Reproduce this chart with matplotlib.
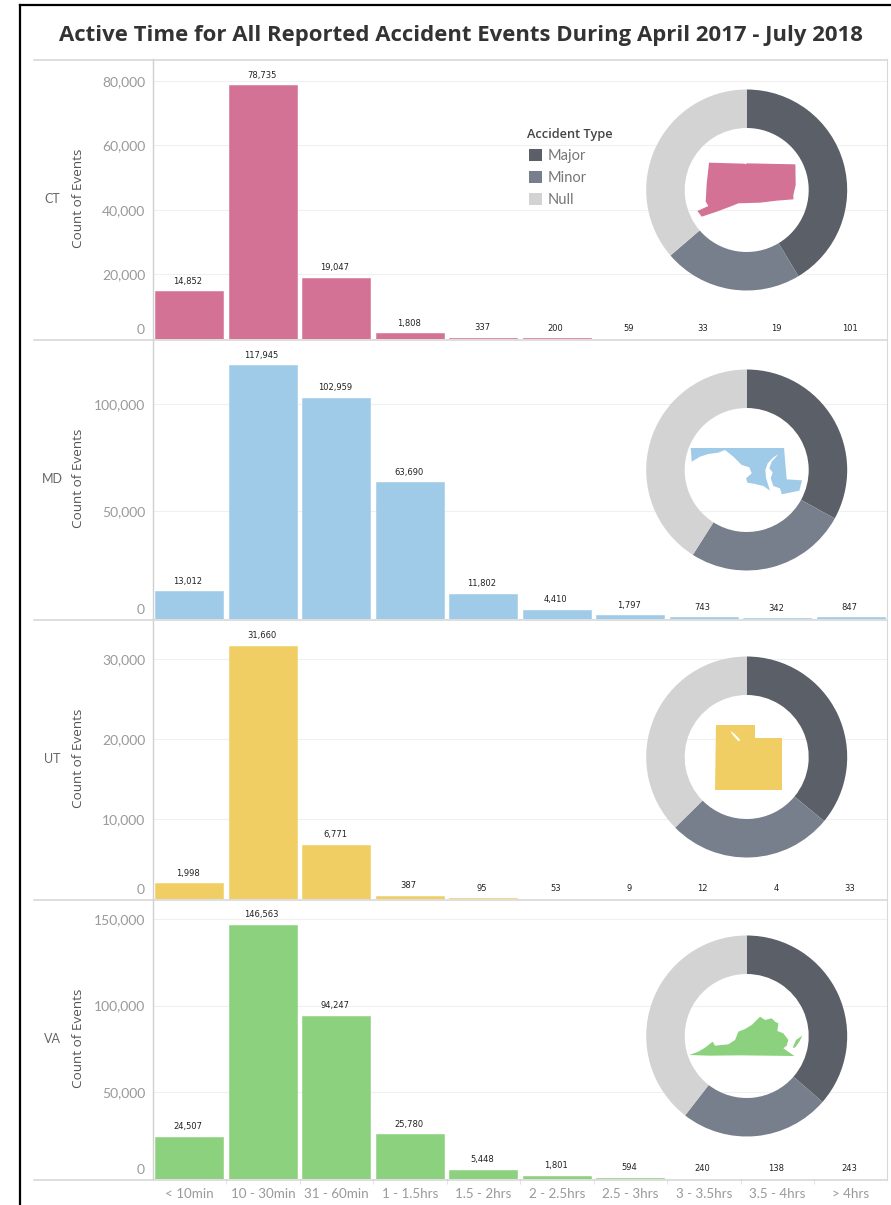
import matplotlib
matplotlib.use("Agg")
import matplotlib.pyplot as plt
from matplotlib.patches import Patch, Polygon
from matplotlib.lines import Line2D
from matplotlib.transforms import ScaledTranslation

W, H = 891, 1205

categories = ["< 10min", "10 - 30min", "31 - 60min", "1 - 1.5hrs", "1.5 - 2hrs",
              "2 - 2.5hrs", "2.5 - 3hrs", "3 - 3.5hrs", "3.5 - 4hrs", "> 4hrs"]
states = ["CT", "MD", "UT", "VA"]

ct_values = [14852, 78735, 19047, 1808, 337, 200, 59, 33, 19, 101]
md_values = [13012, 117945, 102959, 63690, 11802, 4410, 1797, 743, 342, 847]
ut_values = [1998, 31660, 6771, 387, 95, 53, 9, 12, 4, 33]
va_values = [24507, 146563, 94247, 25780, 5448, 1801, 594, 240, 138, 243]
all_values = [ct_values, md_values, ut_values, va_values]

ct_ticks = [0, 20000, 40000, 60000, 80000]
md_ticks = [0, 50000, 100000]
ut_ticks = [0, 10000, 20000, 30000]
va_ticks = [0, 50000, 100000, 150000]
all_ticks = [ct_ticks, md_ticks, ut_ticks, va_ticks]
y_max = [86800, 130200, 35000, 161500]

accident_types = ["Major", "Minor", "Null"]
ct_share = [41.4, 22.3, 36.3]
md_share = [33.0, 26.0, 41.0]
ut_share = [36.0, 26.6, 37.4]
va_share = [36.4, 24.1, 39.5]
all_share = [ct_share, md_share, ut_share, va_share]

state_colors = ["#D37295", "#A0CBE8", "#F1CE63", "#8CD17D"]
type_colors = ["#5B5F68", "#767F8B", "#D3D3D3"]

# state silhouettes, traced by hand, offsets from donut centre in thirds of a pixel
ct_shape = [[(-113, -82), (-7, -79), (-4, -77), (0, -80), (146, -77), (147, -15), (140, 15),
             (140, 28), (90, 32), (40, 38), (-25, 40), (-50, 50), (-90, 65), (-135, 80),
             (-148, 63), (-115, 48), (-123, 35), (-120, -20)]]
md_shape = [[(-168, -66), (112, -66), (120, 28), (166, 31), (158, 62), (105, 73), (100, 55),
             (80, 48), (72, 25), (78, 8), (68, -5), (75, -25), (95, -47), (80, -38),
             (63, -20), (56, 0), (58, 25), (70, 62), (50, 48), (25, 42), (2, 38), (-2, 25),
             (15, 10), (8, -8), (-15, -15), (-40, -40), (-65, -60), (-85, -52), (-115, -48),
             (-140, -40), (-165, -25)]]
ut_shape = [[(-92, -96), (26, -96), (26, -58), (105, -58), (105, 100), (-94, 100)]]
ut_lake = [(-48, -78), (-35, -68), (-20, -52), (-23, -46), (-35, -58), (-46, -72)]
va_shape = [[(-172, 57), (-145, 47), (-125, 35), (-102, 17), (-95, 29), (-75, 27), (-55, 25),
             (-35, 12), (-25, -13), (-5, -21), (15, -33), (25, -43), (40, -58), (55, -48),
             (75, -53), (85, -43), (95, -38), (92, -15), (110, -8), (125, 12), (120, 29),
             (110, 37), (143, 60), (-20, 58), (-110, 59)],
            [(138, 35), (148, 12), (167, -1), (158, 17), (145, 35)]]
all_shapes = [ct_shape, md_shape, ut_shape, va_shape]

plt.rcParams["font.family"] = ["Lato", "DejaVu Sans"]

fig = plt.figure(figsize=(W / 100, H / 100), dpi=100, facecolor="white")


def box(left, top, right, bottom):
    return [left / W, 1 - bottom / H, (right - left) / W, (bottom - top) / H]


fig.text(461 / W, 1 - 35 / H, "Active Time for All Reported Accident Events During April 2017 - July 2018",
         ha="center", va="center", fontsize=15.9, fontweight="bold", family=["Open Sans"], color="#333333")

panel_tops = [59, 339, 619, 899]
donut_centres = [190, 470, 757, 1036]

for i in range(4):
    top = panel_tops[i]
    ax = fig.add_axes(box(152.7, top, 887.7, top + 280))
    ax.bar(range(10), all_values[i], width=0.925, color=state_colors[i], edgecolor=state_colors[i],
           linewidth=0.4, zorder=2)
    ax.set_xlim(-0.5, 9.5)
    ax.set_ylim(0, y_max[i])

    for x, v in enumerate(all_values[i]):
        ax.annotate(f"{v:,}", (x, v), xytext=(-1, 7.2), textcoords="offset points", ha="center",
                    va="center", fontsize=6, family=["DejaVu Sans"], color="#222222", zorder=3)

    ax.set_yticks(all_ticks[i])
    ax.set_yticklabels([f"{t:,}" for t in all_ticks[i]], fontsize=10, color="#999999")
    ax.tick_params(axis="y", length=0, pad=5.5)
    # zero label sits above the baseline
    zero = ax.yaxis.get_major_ticks()[0].label1
    zero.set_verticalalignment("bottom")
    zero.set_transform(zero.get_transform() + ScaledTranslation(0, 2.2 / 72, fig.dpi_scale_trans))
    ax.grid(axis="y", color="#F0F0F0", linewidth=0.8, zorder=0)
    ax.set_axisbelow(True)

    for side in ["top", "right", "bottom"]:
        ax.spines[side].set_visible(False)
    ax.spines["left"].set_color("#D0D0D0")
    ax.spines["left"].set_linewidth(1)

    if i == 3:
        ax.set_xticks(range(10))
        ax.set_xticklabels(categories, fontsize=9.6, color="#999999")
        ax.tick_params(axis="x", length=0, pad=6.6)
        ax.set_xticks([x + 0.5 for x in range(9)], minor=True)
        ax.tick_params(axis="x", which="minor", length=3.6, color="#E4E4E4", width=0.8)
    else:
        ax.set_xticks([])

    fig.text(79 / W, 1 - (top + 139) / H, "Count of Events", rotation=90, ha="center", va="center",
             fontsize=9.7, family=["Open Sans"], color="#555555")
    fig.text(52 / W, 1 - (top + 140) / H, states[i], ha="center", va="center", fontsize=9, color="#666666")

    # donut sits on a white square, this is what cuts the gridlines
    cy = donut_centres[i]
    dax = fig.add_axes(box(746.7 - 108.5, cy - 108.5, 746.7 + 108.5, cy + 108.5))
    dax.set_facecolor("white")
    dax.pie(all_share[i], colors=type_colors, startangle=90, counterclock=False, radius=100.5,
            wedgeprops={"width": 38.5, "linewidth": 0})
    dax.set_xlim(-108.5, 108.5)
    dax.set_ylim(-108.5, 108.5)
    dax.set_axis_on()
    dax.set_xticks([])
    dax.set_yticks([])
    for s in dax.spines.values():
        s.set_visible(False)
    for shape in all_shapes[i]:
        pts = [(x / 3, -y / 3) for x, y in shape]
        dax.add_patch(Polygon(pts, closed=True, facecolor=state_colors[i], edgecolor="none"))
    if states[i] == "UT":
        pts = [(x / 3, -y / 3) for x, y in ut_lake]
        dax.add_patch(Polygon(pts, closed=True, facecolor="white", edgecolor="none"))

# panel separators and outer frame
for y in [59, 339, 619, 899, 1179]:
    fig.add_artist(Line2D([34 / W, 887 / W], [1 - (y + 0.7) / H, 1 - (y + 0.7) / H], color="#D4D4D4", linewidth=1.1))
fig.add_artist(Line2D([887 / W, 887 / W], [1 - 59 / H, 1 - 1180 / H], color="#D8D8D8", linewidth=0.8))
fig.add_artist(Line2D([20 / W, 20 / W], [0, 1 - 5 / H], color="black", linewidth=1.6))
fig.add_artist(Line2D([20 / W, 1], [1 - 5 / H, 1 - 5 / H], color="black", linewidth=1.6))

handles = [Patch(facecolor=c, edgecolor="none") for c in type_colors]
leg = fig.legend(handles, accident_types, loc="upper left", bbox_to_anchor=(524 / W, 1 - 125 / H),
                 frameon=False, fontsize=10.5, title="Accident Type", alignment="left",
                 handlelength=0.87, handleheight=0.87, handletextpad=0.58, labelspacing=0.56,
                 borderpad=0.2, borderaxespad=0)
leg.get_title().set_fontsize(9.2)
leg.get_title().set_fontweight("semibold")
leg.get_title().set_family(["Open Sans"])
leg.get_title().set_color("#444444")
for t in leg.get_texts():
    t.set_color("#777777")
for p in leg.get_patches():
    p.set_x(p.get_x() + 1.44)

fig.savefig("out.png", dpi=100)
